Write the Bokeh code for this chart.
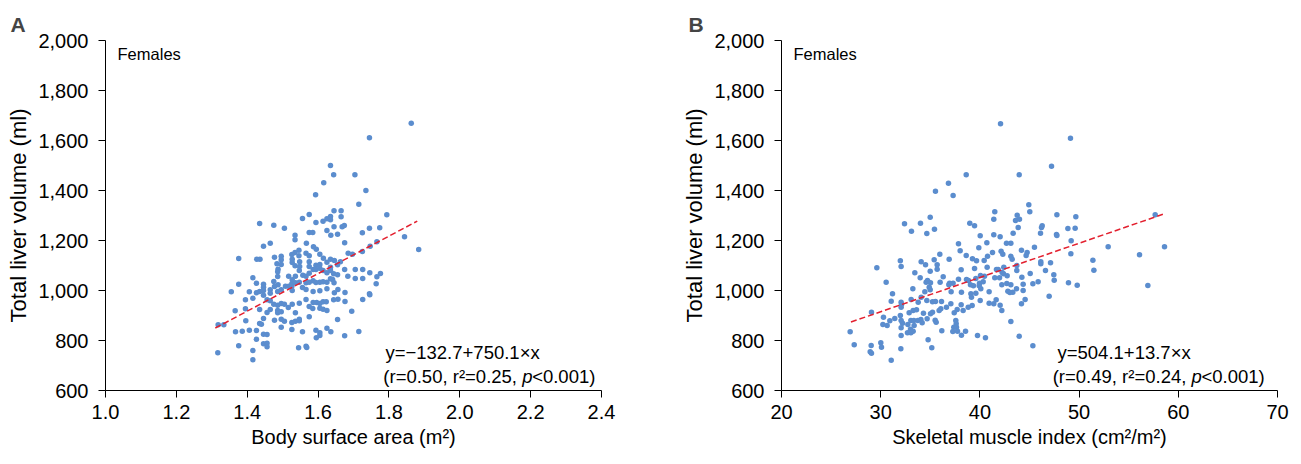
from bokeh.plotting import figure
from bokeh.models import Label, FixedTicker, NumeralTickFormatter, Range1d
from bokeh.layouts import row
from bokeh.embed import file_html
from bokeh.resources import INLINE

# ---------------- data ----------------
# Panel A: body surface area (m2) vs total liver volume (ml), females
bsa_a = [1.863, 1.745, 1.635, 1.644, 1.704, 1.616, 1.735, 1.593, 1.715,
         1.645, 1.665, 1.575, 1.556,
         1.635, 1.665, 1.625, 1.614, 1.635,
         1.794,
         1.435, 1.475, 1.505, 1.594,
         1.645, 1.674, 1.668, 1.625, 1.636, 1.655,
         1.745, 1.774, 1.725,
         1.535, 1.575, 1.585,
         1.844,
         1.465, 1.446,
         1.535, 1.567, 1.675,
         1.587, 1.595, 1.546, 1.535,
         1.884,
         1.766, 1.747, 1.725,
         1.685, 1.697,
         1.376, 1.427, 1.436, 1.477, 1.496, 1.496, 1.526, 1.527, 1.546, 1.566, 1.575, 1.605, 1.615, 1.635,
         1.484, 1.496, 1.487, 1.486, 1.527, 1.535, 1.548, 1.548, 1.575, 1.594, 1.575, 1.605, 1.625, 1.646, 1.663, 1.655, 1.635,
         1.675, 1.705, 1.726, 1.746, 1.766, 1.776, 1.684,
         1.416, 1.475, 1.486, 1.517, 1.527, 1.536, 1.547, 1.557, 1.566, 1.575, 1.586, 1.594, 1.605, 1.614, 1.635, 1.625, 1.644, 1.655, 1.635, 1.641, 1.625, 1.645, 1.705, 1.726,
         1.376, 1.426, 1.446, 1.446, 1.487, 1.477, 1.526, 1.536, 1.547, 1.566, 1.575, 1.586, 1.594, 1.605, 1.614, 1.508, 1.517, 1.526,
         1.355, 1.406, 1.426, 1.435, 1.446, 1.446, 1.465, 1.465, 1.486, 1.496, 1.527, 1.556, 1.566, 1.586, 1.605, 1.625, 1.656, 1.646, 1.676, 1.764,
         1.395, 1.416, 1.456, 1.465, 1.475, 1.486, 1.486, 1.496, 1.505, 1.516, 1.527, 1.547, 1.566, 1.575, 1.586, 1.596, 1.605, 1.614, 1.623, 1.644, 1.656, 1.676, 1.726, 1.745, 1.746,
         1.366, 1.395, 1.435, 1.456, 1.465, 1.486, 1.496, 1.536, 1.585, 1.605, 1.614, 1.625, 1.695, 1.575,
         1.396, 1.446, 1.477, 1.496, 1.505, 1.526, 1.536, 1.547, 1.547, 1.655,
         1.318, 1.334, 1.435, 1.440,
         1.367, 1.386, 1.406, 1.426, 1.446, 1.456, 1.496, 1.526, 1.556, 1.594, 1.605, 1.625, 1.636, 1.715,
         1.376, 1.426, 1.446, 1.456, 1.456, 1.595, 1.605, 1.675,
         1.317, 1.416, 1.545, 1.566, 1.568,
         1.416]
tlv_a = [1669, 1611, 1500, 1463, 1463, 1431, 1400, 1383, 1345,
         1319, 1319, 1304, 1288,
         1296, 1295, 1287, 1277, 1283,
         1303,
         1268, 1261, 1249, 1272,
         1255, 1260, 1255, 1240, 1221, 1225,
         1249, 1251, 1231,
         1221, 1232, 1232,
         1215,
         1189, 1177,
         1203, 1189, 1191,
         1175, 1165, 1161, 1152,
         1164,
         1195, 1177, 1156,
         1149, 1145,
         1128, 1125, 1125, 1133, 1137, 1123, 1144, 1125, 1139, 1149, 1139, 1145, 1129, 1125,
         1107, 1104, 1085, 1075, 1112, 1099, 1115, 1096, 1115, 1101, 1096, 1104, 1113, 1120, 1115, 1103, 1093,
         1084, 1084, 1084, 1071, 1055, 1068, 1057,
         1051, 1036, 1056, 1057, 1043, 1057, 1080, 1061, 1057, 1069, 1084, 1084, 1089, 1080, 1080, 1071, 1067, 1063, 1047, 1044, 1033, 1031, 1048, 1048,
         1025, 1029, 1025, 1013, 1023, 1016, 1027, 1031, 1033, 1031, 1033, 1039, 1032, 1033, 1035, 1017, 1017, 1017,
         995, 995, 991, 996, 1000, 981, 1003, 989, 996, 1003, 1000, 1012, 1004, 996, 999, 1007, 1004, 991, 992, 1027,
         963, 969, 963, 959, 945, 941, 920, 948, 945, 932, 945, 949, 964, 936, 952, 952, 948, 955, 955, 963, 965, 956, 964, 987, 983,
         919, 927, 924, 912, 924, 911, 915, 911, 928, 929, 925, 920, 917, 895,
         879, 888, 881, 885, 877, 872, 877, 885, 879, 884,
         863, 863, 868, 865,
         835, 837, 841, 840, 825, 824, 853, 844, 835, 841, 831, 849, 835, 836,
         779, 805, 787, 789, 775, 811, 820, 819,
         751, 760, 771, 777, 772,
         723]

# Panel B: skeletal muscle index (cm2/m2) vs total liver volume (ml), females
smi_b = [42.08, 38.62, 43.96, 36.83, 35.52, 37.30, 44.93, 45.03,
         41.50, 41.40, 43.76, 43.99, 43.59,
         34.99, 34.01, 32.40, 35.42, 33.10, 34.65,
         38.98, 39.46, 46.28, 46.21,
         43.86, 43.35, 46.11,
         40.03, 42.04, 41.40,
         37.84, 40.70, 42.68, 43.12, 45.50, 39.89,
         44.19, 42.14, 42.31, 41.27, 44.76, 44.66,
         38.01, 38.62, 36.90, 40.77, 35.96, 35.39,
         31.98, 32.06, 29.61,
         34.08, 34.52, 35.69, 35.69, 34.99,
         39.25, 39.66, 40.43, 43.12, 43.25, 46.14, 46.14, 47.12,
         38.11, 39.46, 40.73, 41.84, 42.41, 42.38, 41.67, 43.72, 43.72,
         33.44, 33.98, 34.72, 34.58, 35.02, 36.30, 35.99, 36.94, 37.30, 36.87, 37.84, 38.65, 38.85, 39.05,
         39.59, 39.96, 40.33, 40.46, 40.06, 41.50, 41.98, 42.24, 42.75, 45.07, 44.23, 45.34, 45.87, 46.61,
         30.55, 33.24, 34.45, 34.89, 34.99, 37.10, 38.14, 39.35, 39.93, 40.09, 40.93, 42.21, 42.71, 43.12,
         42.82, 43.32, 43.69, 44.36, 44.36, 43.02,
         31.19, 31.06, 32.06, 32.10, 33.07, 34.08, 33.78, 34.65, 35.22, 35.52, 36.13, 37.07, 38.11, 39.09,
         39.59, 39.15, 40.03, 40.93, 41.64, 41.40, 42.04, 44.56, 44.19, 46.98,
         29.07, 32.06, 32.87, 33.27, 33.61, 34.31, 35.02, 35.22, 35.89, 36.06, 36.63, 37.41, 37.71, 38.31,
         38.82, 39.22, 42.21,
         26.92,
         30.28, 30.22, 30.65, 30.92, 31.42, 31.98, 32.06, 32.20, 32.06, 32.74, 33.04, 33.34, 33.37, 33.00,
         32.70, 33.04, 33.27, 33.74, 34.05, 34.18, 34.68, 35.49, 35.59, 37.57, 37.61, 37.37, 37.64, 37.27,
         37.74, 36.16, 38.55, 38.14, 43.12,
         32.06, 34.78, 39.76, 40.56, 43.96,
         27.33, 29.04, 28.94, 29.07, 30.01, 30.08, 32.03, 35.15, 45.34,
         31.06,
         49.13, 47.22, 47.76, 49.67, 48.87, 49.60, 47.72, 47.76, 49.20, 52.93, 58.61, 49.17, 56.09, 57.67,
         51.39, 51.49, 47.45, 47.49, 48.93, 49.81, 56.93]
tlv_b = [1667, 1463, 1463, 1429, 1397, 1380, 1343, 1315,
         1315, 1285, 1301, 1285, 1280,
         1293, 1269, 1267, 1245, 1237, 1228,
         1269, 1259, 1259, 1252,
         1252, 1229, 1229,
         1219, 1215, 1223,
         1187, 1191, 1189, 1189, 1173, 1171,
         1161, 1157, 1145, 1152, 1152, 1140,
         1159, 1140, 1125, 1137, 1145, 1123,
         1119, 1096, 1091,
         1115, 1103, 1103, 1085, 1077,
         1127, 1119, 1120, 1137, 1125, 1115, 1107, 1111,
         1083, 1088, 1093, 1084, 1093, 1067, 1084, 1100, 1080,
         1071, 1051, 1040, 1033, 1031, 1055, 1033, 1029, 1029, 1023, 1045, 1044, 1040, 1023,
         1048, 1029, 1035, 1057, 1060, 1051, 1051, 1072, 1059, 1068, 1053, 1027, 1035, 1080,
         1033, 1007, 995, 1013, 1003, 995, 993, 1019, 1019, 1007, 995, 1023, 1028, 1023,
         997, 993, 1007, 1025, 1000, 992,
         987, 957, 953, 944, 964, 973, 953, 960, 955, 956, 956, 947, 943, 987,
         989, 973, 960, 949, 963, 947, 941, 964, 947, 977,
         913, 933, 911, 920, 923, 909, 907, 913, 920, 927, 933, 911, 924, 920,
         933, 940, 920,
         835,
         893, 864, 860, 879, 888, 900, 880, 869, 851, 864, 880, 880, 860, 845,
         831, 831, 837, 880, 884, 871, 887, 881, 873, 880, 867, 853, 853, 836,
         837, 839, 837, 821, 876,
         820, 803, 820, 811, 817,
         783, 780, 755, 749, 791, 773, 767, 771, 779,
         721,
         1609, 1497, 1303, 1295, 1248, 1249, 1224, 1220, 1199, 1175, 1175, 1147, 1143, 1303,
         1121, 1081, 1063, 1041, 1031, 1021, 1020]

# regression lines as printed on the chart (intercept, slope, x-extent)
fit_a = dict(a=-132.7, b=750.1, x0=1.31, x1=1.88)
fit_b = dict(a=504.1, b=13.7, x0=27.0, x1=58.6)

xticks_a = [1.0, 1.2, 1.4, 1.6, 1.8, 2.0, 2.2, 2.4]
xticks_b = [20, 30, 40, 50, 60, 70]
yticks = [600, 800, 1000, 1200, 1400, 1600, 1800, 2000]

# ---------------- styling ----------------
FONT = "Liberation Sans"
DOT = "#5b8dce"
RED = "#e3202f"
EQ = "18.5px"


def make_fig(width, left, right, xr, xticks, xfmt, xlabel, panel, title_offset):
    p = figure(width=width, height=456, x_range=Range1d(*xr), y_range=Range1d(600, 2000),
               output_backend="svg", toolbar_location=None,
               min_border_left=left, min_border_right=right,
               min_border_top=40, min_border_bottom=66)
    p.grid.visible = False
    p.outline_line_color = None
    p.title.text = panel
    p.title.text_font = FONT
    p.title.text_font_size = "21px"
    p.title.text_font_style = "bold"
    p.title.align = "left"
    p.title.offset = title_offset
    p.title.standoff = 9
    for ax in (p.xaxis[0], p.yaxis[0]):
        ax.axis_line_color = "black"
        ax.axis_line_width = 1
        ax.major_tick_line_color = "black"
        ax.major_tick_out = 7
        ax.major_tick_in = 0
        ax.minor_tick_line_color = None
        ax.major_label_text_font = FONT
        ax.major_label_text_font_size = "20px"
        ax.major_label_text_color = "black"
        ax.axis_label_text_font = FONT
        ax.axis_label_text_font_style = "normal"
        ax.axis_label_text_color = "black"
    p.xaxis.ticker = FixedTicker(ticks=xticks)
    p.xaxis.formatter = NumeralTickFormatter(format=xfmt)
    p.xaxis.major_label_standoff = 7
    p.xaxis.axis_label = xlabel
    p.xaxis.axis_label_text_font_size = "20px"
    p.xaxis.axis_label_standoff = 4
    p.yaxis.ticker = FixedTicker(ticks=yticks)
    p.yaxis.formatter = NumeralTickFormatter(format="0,0")
    p.yaxis.major_label_standoff = 10
    p.yaxis.axis_label = "Total liver volume (ml)"
    p.yaxis.axis_label_text_font_size = "22px"
    p.yaxis.axis_label_standoff = 4
    return p


def add_fit(p, fit):
    xs = [fit["x0"], fit["x1"]]
    ys = [fit["a"] + fit["b"] * x for x in xs]
    p.line(xs, ys, line_color=RED, line_width=1.5, line_dash="6 3")


def lab(p, x, y, text, size=EQ, align="left", style="normal", dx=0):
    p.add_layout(Label(x=x, y=y, text=text, text_font=FONT, text_font_size=size,
                       text_align=align, text_baseline="alphabetic", x_offset=dx,
                       text_font_style=style, text_color="black"))


# Panel A
pa = make_fig(648, 105, 47, (1.0, 2.4), xticks_a, "0.0", "Body surface area (m\u00b2)", "A", -95)
pa.scatter(bsa_a, tlv_a, size=5.5, color=DOT, line_color=None)
add_fit(pa, fit_a)
lab(pa, 1.034, 1948, "Females", size="16.5px")
lab(pa, 1.79, 752, "y=\u2212132.7+750.1\u00d7x")
lab(pa, 2.176, 656, "(r=0.50, r\u00b2=0.25, ", align="right")
lab(pa, 2.176, 656, "p", style="italic")
lab(pa, 2.176, 656, "<0.001)", dx=10)

# Panel B
pb = make_fig(645, 133, 16, (20, 70), xticks_b, "0", "Skeletal muscle index (cm\u00b2/m\u00b2)", "B", -93)
pb.scatter(smi_b, tlv_b, size=5.5, color=DOT, line_color=None)
add_fit(pb, fit_b)
lab(pb, 21.21, 1948, "Females", size="16.5px")
lab(pb, 47.82, 752, "y=504.1+13.7\u00d7x")
lab(pb, 61.33, 656, "(r=0.49, r\u00b2=0.24, ", align="right")
lab(pb, 61.33, 656, "p", style="italic")
lab(pb, 61.33, 656, "<0.001)", dx=10)

layout = row(pa, pb)
open("out.html", "w").write(file_html(layout, INLINE))
